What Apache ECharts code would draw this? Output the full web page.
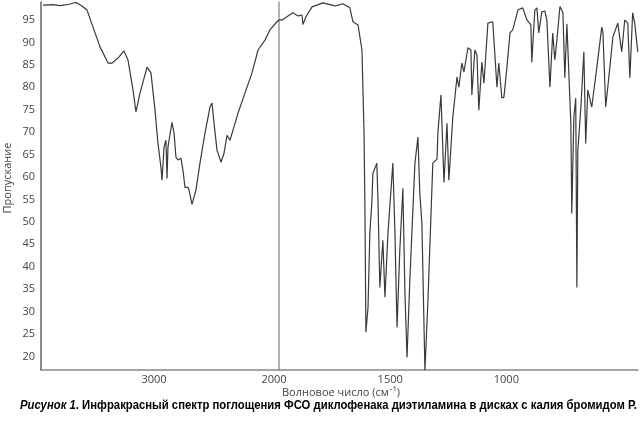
<!DOCTYPE html>
<html>
<head>
<meta charset="utf-8">
<script src="https://cdn.jsdelivr.net/npm/echarts@6/dist/echarts.min.js"></script>
<style>
html,body{margin:0;padding:0;background:#fff;}
#c{width:640px;height:433px;}
</style>
</head>
<body>
<div id="c"></div>
<script>
// ---- data ----
// 4000–2000 cm-1 region (half scale)
const wnHigh = [3983,3900,3840,3760,3714,3697,3650,3613,3563,3504,3437,3403,3353,3303,3269,3227,3202,3168,3109,3076,3042,3017,2992,2983,2966,2950,2941,2933,2899,2882,2866,2849,2824,2807,2790,2765,2756,2731,2698,2664,2622,2580,2563,2546,2521,2487,2462,2437,2412,2387,2345,2286,2227,2176,2118,2076,2017,2000];
const tHigh  = [98.3,98.4,98.2,98.5,98.9,98.8,98.0,97.2,93.4,89.0,85.4,85.4,86.5,88.1,86.1,79.4,74.5,78.7,84.5,83.2,74.9,67.5,62.2,59.3,66.7,68.2,59.7,66.7,72.2,69.8,64.4,63.8,64.2,61.5,57.7,57.7,57.1,53.9,57.1,63.1,69.8,75.6,76.5,72.0,66.0,63.3,65.3,69.3,68.2,70.4,74.2,78.7,83.2,88.3,90.5,92.8,94.6,95.0];
// 2000–455 cm-1 region
const wnLow = [2000,1987,1940,1918,1901,1897,1884,1858,1811,1794,1772,1759,1746,1725,1695,1682,1660,1643,1634,1630,1626,1617,1609,1600,1596,1579,1574,1566,1553,1544,1531,1510,1501,1492,1480,1467,1458,1449,1437,1415,1402,1394,1385,1372,1359,1338,1320,1316,1303,1290,1277,1269,1252,1234,1226,1213,1204,1187,1174,1170,1157,1148,1140,1127,1118,1101,1080,1062,1054,1041,1032,1019,1006,994,972,951,933,916,912,899,890,882,869,856,847,834,822,813,804,791,778,770,761,744,740,731,723,718,714,701,688,680,671,654,632,611,606,594,576,563,542,525,512,499,490,478,469,456];
const tLow  = [95.0,95.0,96.6,95.9,96.1,94.0,95.7,97.9,98.8,98.6,98.3,98.1,98.3,98.6,97.7,94.6,93.9,88.3,69.8,52.0,25.4,30.9,47.5,54.8,60.8,63.1,54.8,35.4,45.9,33.2,47.5,63.1,47.5,26.5,43.7,57.5,34.1,19.8,37.0,63.1,68.9,56.4,49.7,16.9,32.5,63.1,64.0,70.0,78.3,58.8,72.0,59.3,73.3,82.3,80.0,85.4,83.4,88.8,88.3,78.3,88.3,87.2,74.9,85.6,80.9,94.3,94.6,80.0,85.4,77.6,77.8,84.5,92.1,92.8,97.2,97.7,95.0,93.9,85.6,97.2,97.7,92.1,96.8,97.0,94.9,80.0,92.1,86.1,90.5,98.0,96.6,82.1,94.1,72.0,51.9,73.3,77.6,35.4,65.8,75.4,87.9,67.5,79.4,75.6,84.5,93.4,92.3,75.6,84.5,91.2,94.3,87.9,95.0,94.3,82.1,96.6,94.3,87.9];
const yTicks = [20,25,30,35,40,45,50,55,60,65,70,75,80,85,90,95];
const xTicksHigh = [3000];
const xTicksLow = [2000,1500,1000];
const yTitle = 'Пропускание';
const xTitle = 'Волновое число (см⁻¹)';
const capA = 'Рисунок 1';
const capB = '. Инфракрасный спектр поглощения ФСО диклофенака диэтиламина в дисках с калия бромидом Р.';

const zip = (a, b) => a.map((v, i) => [v, b[i]]);

// caption scaling (layout only)
const cv = document.createElement('canvas').getContext('2d');
const capFontA = 'italic bold 13px "Liberation Sans", Arial, sans-serif';
const capFontB = 'bold 13px "Liberation Sans", Arial, sans-serif';
cv.font = capFontA; const wA = cv.measureText(capA).width;
cv.font = capFontB; const wB = cv.measureText(capB).width;
const capLeft = 20, capRight = 637;
const s = (capRight - capLeft) / (wA + wB);

const chart = echarts.init(document.getElementById('c'), null, {renderer: 'canvas'});
const axisLab = {color: '#444', fontSize: 11, fontFamily: '"Open Sans", "Liberation Sans", sans-serif', formatter: v => String(v)};
chart.setOption({
  animation: false,
  backgroundColor: '#fff',
  grid: [
    {left: 41, top: 2, width: 238, height: 368},
    {left: 279, top: 2, width: 359, height: 368}
  ],
  xAxis: [
    {gridIndex: 0, type: 'value', min: 2000, max: 4000, inverse: true,
     axisLine: {lineStyle: {color: '#888', width: 1.5}}, axisTick: {show: false}, splitLine: {show: false},
     axisLabel: Object.assign({customValues: xTicksHigh, margin: 4, padding: [0, 12, 0, 0]}, axisLab)},
    {gridIndex: 1, type: 'value', min: 455, max: 2000, inverse: true,
     axisLine: {lineStyle: {color: '#888', width: 1.5}}, axisTick: {show: false}, splitLine: {show: false},
     axisLabel: Object.assign({customValues: xTicksLow, margin: 4, padding: [0, 10, 0, 0]}, axisLab)}
  ],
  yAxis: [
    {gridIndex: 0, type: 'value', min: 17, max: 99,
     axisLine: {show: true, lineStyle: {color: '#666', width: 1.5}}, axisTick: {show: false}, splitLine: {show: false},
     axisLabel: Object.assign({customValues: yTicks, margin: 6}, axisLab)},
    {gridIndex: 1, type: 'value', min: 17, max: 99,
     axisLine: {show: true, lineStyle: {color: '#999', width: 1.5}}, axisTick: {show: false}, splitLine: {show: false},
     axisLabel: {show: false}}
  ],
  series: [
    {type: 'line', xAxisIndex: 0, yAxisIndex: 0, data: zip(wnHigh, tHigh), showSymbol: false,
     lineStyle: {color: '#3a3a3a', width: 1.2}},
    {type: 'line', xAxisIndex: 1, yAxisIndex: 1, data: zip(wnLow, tLow), showSymbol: false,
     lineStyle: {color: '#3a3a3a', width: 1.2}}
  ],
  graphic: [
    {type: 'text', x: 8, y: 178, rotation: Math.PI / 2,
     style: {text: yTitle, fill: '#444', font: '11px "Open Sans", "Liberation Sans", sans-serif', align: 'center', verticalAlign: 'middle'}},
    {type: 'text', x: 282, y: 393,
     style: {text: xTitle, fill: '#444', font: '11px "Open Sans", "Liberation Sans", sans-serif', align: 'left', verticalAlign: 'middle'}},
    {type: 'text', x: capLeft, y: 405, scaleX: s,
     style: {text: capA, fill: '#000', font: capFontA, align: 'left', verticalAlign: 'middle'}},
    {type: 'text', x: capLeft + wA * s, y: 405, scaleX: s,
     style: {text: capB, fill: '#000', font: capFontB, align: 'left', verticalAlign: 'middle'}}
  ]
});
</script>
</body>
</html>
